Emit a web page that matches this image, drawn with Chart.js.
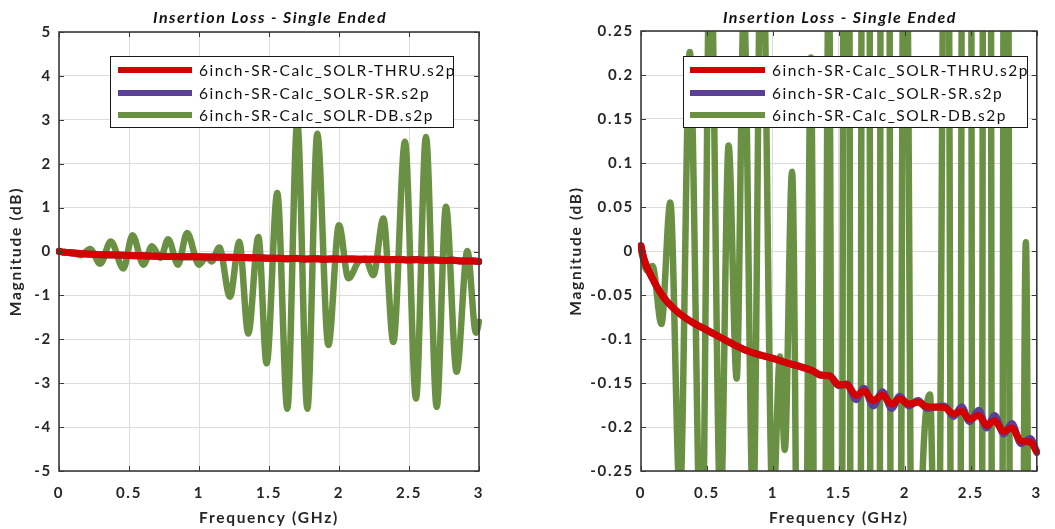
<!DOCTYPE html>
<html>
<head>
<meta charset="utf-8">
<script src="https://cdn.jsdelivr.net/npm/chart.js@4"></script>
<style>
  html, body { margin: 0; padding: 0; background: #ffffff; }
  #wrap { position: relative; width: 1055px; height: 529px; overflow: hidden; }
  .panel { position: absolute; top: 0; height: 529px; }
  #leftPanel { left: 0; width: 527px; }
  #rightPanel { left: 527px; width: 528px; }
</style>
</head>
<body>
<div id="wrap">
  <div class="panel" id="leftPanel"><canvas id="lossWide" width="527" height="529"></canvas></div>
  <div class="panel" id="rightPanel"><canvas id="lossZoom" width="528" height="529"></canvas></div>
</div>
<script>
// ---- measured insertion loss (dB) versus frequency (GHz) ----
const seriesNames = [
  '6inch-SR-Calc_SOLR-THRU.s2p',
  '6inch-SR-Calc_SOLR-SR.s2p',
  '6inch-SR-Calc_SOLR-DB.s2p'
];

// THRU and SR share one frequency grid
const thruFreq = [0, 0.02, 0.05, 0.1, 0.15, 0.2, 0.3, 0.4, 0.5, 0.6, 0.7, 0.8, 0.9, 1.0, 1.1, 1.2, 1.3,
  1.36, 1.43, 1.50, 1.56, 1.63, 1.69, 1.76, 1.83, 1.90, 1.96, 2.03, 2.10, 2.17, 2.30, 2.37, 2.43,
  2.49, 2.56, 2.62, 2.68, 2.75, 2.81, 2.88, 2.95, 3.0];
const thruMag = [0.006, -0.008, -0.020, -0.035, -0.048, -0.058, -0.072, -0.082, -0.090, -0.098, -0.106,
  -0.113, -0.118, -0.122, -0.127, -0.131, -0.136,
  -0.141, -0.142, -0.152, -0.152, -0.164, -0.159, -0.170, -0.164, -0.174, -0.168, -0.174, -0.172,
  -0.177, -0.178, -0.185, -0.182, -0.191, -0.187, -0.198, -0.193, -0.205, -0.201, -0.216, -0.217, -0.228];

const srFreq = thruFreq;
const srMag = [0.006, -0.008, -0.020, -0.035, -0.048, -0.058, -0.072, -0.082, -0.090, -0.098, -0.106,
  -0.113, -0.118, -0.122, -0.127, -0.131, -0.136,
  -0.141, -0.142, -0.153, -0.151, -0.169, -0.156, -0.176, -0.160, -0.179, -0.165, -0.176, -0.170,
  -0.179, -0.176, -0.188, -0.177, -0.194, -0.181, -0.201, -0.187, -0.208, -0.196, -0.219, -0.213, -0.229];

const dbFreq = [0, 0.045, 0.087, 0.155, 0.222, 0.295, 0.37, 0.46, 0.525, 0.603, 0.664, 0.725, 0.78,
  0.85, 0.915, 1.0, 1.053, 1.09, 1.145, 1.221, 1.288, 1.352, 1.424, 1.483, 1.559, 1.631, 1.702,
  1.774, 1.845, 1.924, 2.0, 2.067, 2.14, 2.19, 2.245, 2.317, 2.388, 2.471, 2.55, 2.621, 2.698,
  2.764, 2.84, 2.917, 2.978, 3.0];
const dbMag = [0, -0.022, -0.017, -0.083, 0.055, -0.28, 0.226, -0.385, 0.37, -0.3, 0.12, -0.145, 0.28,
  -0.3, 0.42, -0.3, -0.12, -0.226, 0.09, -1.03, 0.22, -1.87, 0.33, -2.55, 1.33, -3.58, 2.95,
  -3.58, 2.68, -2.13, 0.6, -0.61, -0.23, -0.163, -0.54, 0.75, -2.06, 2.5, -3.35, 2.61, -3.54,
  1.02, -2.74, 0.01, -1.85, -1.6];

// axis ticks
const freqTicks = [0, 0.5, 1, 1.5, 2, 2.5, 3];
const freqTickLabels = ['0', '0.5', '1', '1.5', '2', '2.5', '3'];
const wideTicks = [-5, -4, -3, -2, -1, 0, 1, 2, 3, 4, 5];
const wideTickLabels = ['-5', '-4', '-3', '-2', '-1', '0', '1', '2', '3', '4', '5'];
const zoomTicks = [-0.25, -0.2, -0.15, -0.1, -0.05, 0, 0.05, 0.1, 0.15, 0.2, 0.25];
const zoomTickLabels = ['-0.25', '-0.2', '-0.15', '-0.1', '-0.05', '0', '0.05', '0.1', '0.15', '0.2', '0.25'];

const titleText = 'Insertion Loss - Single Ended';
const xTitle = 'Frequency (GHz)';
const yTitle = 'Magnitude (dB)';

// ---- styling ----
const COLORS = ['#d40000', '#5b3e96', '#6a9143'];
const FONT = 'Lato, "Open Sans", sans-serif';
const INK = '#262626';
const SPACING = '1.7px';

function pairs(xs, ys) { return xs.map((x, i) => ({ x: x, y: ys[i] })); }

function makeDatasets() {
  const sets = [[thruFreq, thruMag], [srFreq, srMag], [dbFreq, dbMag]];
  return sets.map((s, i) => ({
    label: seriesNames[i],
    data: pairs(s[0], s[1]),
    borderColor: COLORS[i],
    backgroundColor: COLORS[i],
    borderWidth: i === 2 ? 6.5 : 7,
    pointRadius: 0,
    cubicInterpolationMode: 'monotone',
    borderCapStyle: 'round',
    borderJoinStyle: 'round',
    clip: { left: 3, right: 3, top: 0, bottom: 0 }
  }));
}

// wide letter spacing for every label on the canvas
const spacingPlugin = {
  id: 'spacing',
  beforeUpdate(chart) { chart.ctx.letterSpacing = SPACING; },
  beforeDraw(chart) { chart.ctx.letterSpacing = SPACING; }
};

// axes box with inward tick marks, title above the plot, legend box inside it
const framePlugin = {
  id: 'frame',
  afterDatasetsDraw(chart, args, opts) {
    const { ctx, chartArea: a } = chart;
    const xs = chart.scales.x, ys = chart.scales.y;
    ctx.save();
    ctx.strokeStyle = '#3a3a3a';
    ctx.lineWidth = 1;
    ctx.beginPath();
    const len = 5;
    xs.ticks.forEach(t => {
      const px = Math.round(xs.getPixelForValue(t.value)) + 0.5;
      ctx.moveTo(px, a.bottom); ctx.lineTo(px, a.bottom - len);
      ctx.moveTo(px, a.top); ctx.lineTo(px, a.top + len);
    });
    ys.ticks.forEach(t => {
      const py = Math.round(ys.getPixelForValue(t.value)) + 0.5;
      ctx.moveTo(a.left, py); ctx.lineTo(a.left + len, py);
      ctx.moveTo(a.right, py); ctx.lineTo(a.right - len, py);
    });
    ctx.stroke();
    ctx.lineWidth = 1.6;
    ctx.strokeRect(a.left, a.top, a.right - a.left, a.bottom - a.top);

    // title
    ctx.fillStyle = '#111';
    ctx.font = 'italic bold 16px ' + FONT;
    ctx.letterSpacing = '1.5px';
    ctx.textAlign = 'center';
    ctx.textBaseline = 'alphabetic';
    ctx.fillText(opts.title, (a.left + a.right) / 2 + 1, 23);
    ctx.restore();
  },
  afterDraw(chart, args, opts) {
    const { ctx, chartArea: a } = chart;
    const L = opts.legend;
    ctx.save();
    const bx = a.left + L.dx, by = L.top;
    ctx.fillStyle = '#ffffff';
    ctx.fillRect(bx, by, L.w, L.h);
    ctx.strokeStyle = '#1a1a1a';
    ctx.lineWidth = 1;
    ctx.strokeRect(bx + 0.5, by + 0.5, L.w, L.h);
    ctx.font = '15.5px ' + FONT;
    ctx.letterSpacing = '1.5px';
    ctx.textAlign = 'left';
    ctx.textBaseline = 'middle';
    chart.data.datasets.forEach((ds, i) => {
      const y = by + L.rows[i];
      ctx.strokeStyle = ds.borderColor;
      ctx.lineWidth = 6;
      ctx.beginPath();
      ctx.moveTo(bx + L.s0, y); ctx.lineTo(bx + L.s1, y);
      ctx.stroke();
      ctx.fillStyle = '#111';
      ctx.fillText(ds.label, bx + L.tx, y + 1);
    });
    ctx.restore();
  }
};

function buildChart(canvasId, yMin, yMax, yTickVals, yTickLabels, yWidth, yTitlePad, pad, legend) {
  return new Chart(document.getElementById(canvasId), {
    type: 'line',
    data: { datasets: makeDatasets() },
    plugins: [spacingPlugin, framePlugin],
    options: {
      responsive: false,
      devicePixelRatio: 1,
      animation: false,
      events: [],
      layout: { padding: pad },
      plugins: {
        legend: { display: false },
        tooltip: { enabled: false },
        title: { display: false },
        frame: { title: titleText, legend: legend }
      },
      scales: {
        x: {
          type: 'linear',
          min: 0, max: 3,
          afterBuildTicks: s => { s.ticks = freqTicks.map(v => ({ value: v })); },
          afterFit: s => { s.height = 58; },
          grid: { color: '#dcdcdc', lineWidth: 1, drawTicks: false },
          border: { display: false },
          ticks: {
            autoSkip: false, maxRotation: 0, padding: 13,
            color: INK, font: { family: FONT, size: 15, weight: 'bold' },
            callback: (v, i) => freqTickLabels[i]
          },
          title: {
            display: true, text: xTitle, color: INK,
            font: { family: FONT, size: 15.5, weight: 'bold' },
            padding: { top: 0, bottom: 2 }
          }
        },
        y: {
          type: 'linear',
          min: yMin, max: yMax,
          afterBuildTicks: s => { s.ticks = yTickVals.map(v => ({ value: v })); },
          afterFit: s => { s.width = yWidth; },
          grid: { color: '#dcdcdc', lineWidth: 1, drawTicks: false },
          border: { display: false },
          ticks: {
            autoSkip: false, padding: 7,
            color: INK, font: { family: FONT, size: 15, weight: 'bold' },
            callback: (v, i) => yTickLabels[i]
          },
          title: {
            display: true, text: yTitle, color: INK,
            font: { family: FONT, size: 15.5, weight: 'bold' },
            padding: { top: yTitlePad, bottom: 0 }
          }
        }
      }
    }
  });
}

// full-range view
buildChart('lossWide', -5, 5, wideTicks, wideTickLabels, 59, 7,
  { left: 0, right: 48, top: 32, bottom: 0 },
  { dx: 51, top: 56, w: 343, h: 71, s0: 8, s1: 82, tx: 89, rows: [14, 37, 59] });

// close-up around 0 dB
buildChart('lossZoom', -0.25, 0.25, zoomTicks, zoomTickLabels, 114, 40,
  { left: 0, right: 3, top: 31, bottom: 0 },
  { dx: 42, top: 56, w: 344, h: 71, s0: 7, s1: 82, tx: 89, rows: [14, 37, 59] });
</script>
</body>
</html>
